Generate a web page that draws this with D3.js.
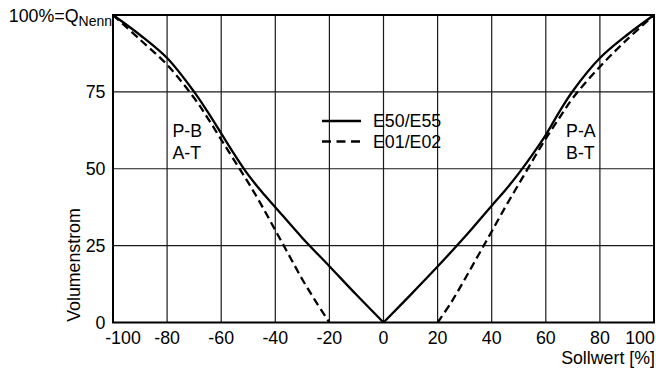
<!DOCTYPE html>
<html lang="de">
<head>
<meta charset="UTF-8">
<title>Volumenstrom</title>
<script src="https://d3js.org/d3.v7.min.js"></script>
<style>
  body { margin: 0; background: #fff; }
  text { font-family: "Liberation Sans", Arial, Helvetica, sans-serif; fill: #000; }
</style>
</head>
<body>
<script>
// Sollwert [%] / Volumenstrom [%]
const solidLeftX  = [-100, -90, -80, -70, -65, -60, -55, -50, -45, -40, -30, -20, -10, 0]
const solidLeftY  = [100, 93.5, 86, 75, 68.5, 61.5, 54.5, 48, 42.5, 37.5, 27.5, 18.3, 9, 0]
const solidRightX = [0, 10, 20, 30, 40, 45, 50, 55, 60, 65, 70, 80, 90, 100]
const solidRightY = [0, 9, 18.2, 27.8, 38, 43, 48.5, 54.5, 61, 68.5, 75.3, 86, 93.5, 100]

const dashLeftX  = [-100, -90, -80, -70, -65, -60, -55, -50, -45, -40, -35, -30, -25, -20]
const dashLeftY  = [100, 92, 83.8, 73, 66.5, 59.5, 52.5, 45.5, 38, 30, 22, 14, 6.8, 0]
const dashRightX = [20, 25, 30, 35, 40, 45, 50, 55, 60, 65, 70, 80, 90, 100]
const dashRightY = [0, 6.5, 14, 21.8, 29.6, 37.5, 45, 52.5, 59.8, 66.5, 73, 83.2, 92, 100]

const xTicks = [-100, -80, -60, -40, -20, 0, 20, 40, 60, 80, 100]
const yTicks = [0, 25, 50, 75]
const legendNames = ['E50/E55', 'E01/E02']

const width = 656
const height = 371
const fs = 17.8
const x = d3.scaleLinear().domain([-100, 100]).range([113, 654])
const y = d3.scaleLinear().domain([0, 100]).range([322.5, 15])

const svg = d3.select('body').append('svg')
  .attr('width', width)
  .attr('height', height)

// grid
svg.append('g')
  .selectAll('line')
  .data(xTicks.slice(1, -1))
  .join('line')
  .attr('x1', d => x(d)).attr('x2', d => x(d))
  .attr('y1', y(0)).attr('y2', y(100))
  .attr('stroke', '#1a1a1a')
  .attr('stroke-width', 1.2)

svg.append('g')
  .selectAll('line')
  .data(yTicks.slice(1))
  .join('line')
  .attr('x1', x(-100)).attr('x2', x(100))
  .attr('y1', d => y(d)).attr('y2', d => y(d))
  .attr('stroke', '#1a1a1a')
  .attr('stroke-width', 1.2)

svg.append('rect')
  .attr('x', x(-100)).attr('y', y(100))
  .attr('width', x(100) - x(-100))
  .attr('height', y(0) - y(100))
  .attr('fill', 'none')
  .attr('stroke', '#000')
  .attr('stroke-width', 2)

// curves
const line = d3.line()
  .x(d => x(d[0]))
  .y(d => y(d[1]))
  .curve(d3.curveCatmullRom.alpha(0.5))

const curves = [
  { xs: solidLeftX, ys: solidLeftY, dash: null },
  { xs: solidRightX, ys: solidRightY, dash: null },
  { xs: dashLeftX, ys: dashLeftY, dash: '8,4.5' },
  { xs: dashRightX, ys: dashRightY, dash: '8,4.5' }
]

svg.append('g')
  .selectAll('path')
  .data(curves)
  .join('path')
  .attr('d', c => line(d3.zip(c.xs, c.ys)))
  .attr('fill', 'none')
  .attr('stroke', '#000')
  .attr('stroke-width', 2.3)
  .attr('stroke-dasharray', c => c.dash)

// x tick labels
svg.append('g')
  .selectAll('text')
  .data(xTicks)
  .join('text')
  .attr('x', d => d === 100 ? x(d) - 14 : x(d) + (d === -100 ? 10 : 0))
  .attr('y', 343.5)
  .attr('text-anchor', 'middle')
  .attr('font-size', fs)
  .text(d => d)

// y tick labels
svg.append('g')
  .selectAll('text')
  .data(yTicks)
  .join('text')
  .attr('x', 105.5)
  .attr('y', d => y(d))
  .attr('dy', '0.34em')
  .attr('text-anchor', 'end')
  .attr('font-size', fs)
  .text(d => d)

const topLabel = svg.append('text')
  .attr('x', 112)
  .attr('y', 21.5)
  .attr('text-anchor', 'end')
  .attr('font-size', fs)
topLabel.append('tspan').text('100%=Q')
topLabel.append('tspan').attr('dy', 4).attr('font-size', 14).text('Nenn')

// axis titles
svg.append('text')
  .attr('transform', 'translate(79.5,265) rotate(-90)')
  .attr('text-anchor', 'middle')
  .attr('font-size', fs)
  .text('Volumenstrom')

svg.append('text')
  .attr('x', 655)
  .attr('y', 364)
  .attr('text-anchor', 'end')
  .attr('font-size', fs)
  .text('Sollwert [%]')

// legend
const legend = svg.append('g')
legend.selectAll('line')
  .data(legendNames)
  .join('line')
  .attr('x1', 322).attr('x2', 361)
  .attr('y1', (d, i) => 121 + i * 20.5)
  .attr('y2', (d, i) => 121 + i * 20.5)
  .attr('stroke', '#000')
  .attr('stroke-width', 2.3)
  .attr('stroke-dasharray', (d, i) => i ? '9,5.5' : null)
legend.selectAll('text')
  .data(legendNames)
  .join('text')
  .attr('x', 373)
  .attr('y', (d, i) => 127 + i * 20.5)
  .attr('font-size', fs)
  .text(d => d)

// port labels
const ports = [
  { x: -78, lines: ['P-B', 'A-T'] },
  { x: 67.5, lines: ['P-A', 'B-T'] }
]
ports.forEach(p => {
  p.lines.forEach((t, i) => {
    svg.append('text')
      .attr('x', x(p.x))
      .attr('y', 137 + i * 22)
      .attr('font-size', fs)
      .text(t)
  })
})
</script>
</body>
</html>
